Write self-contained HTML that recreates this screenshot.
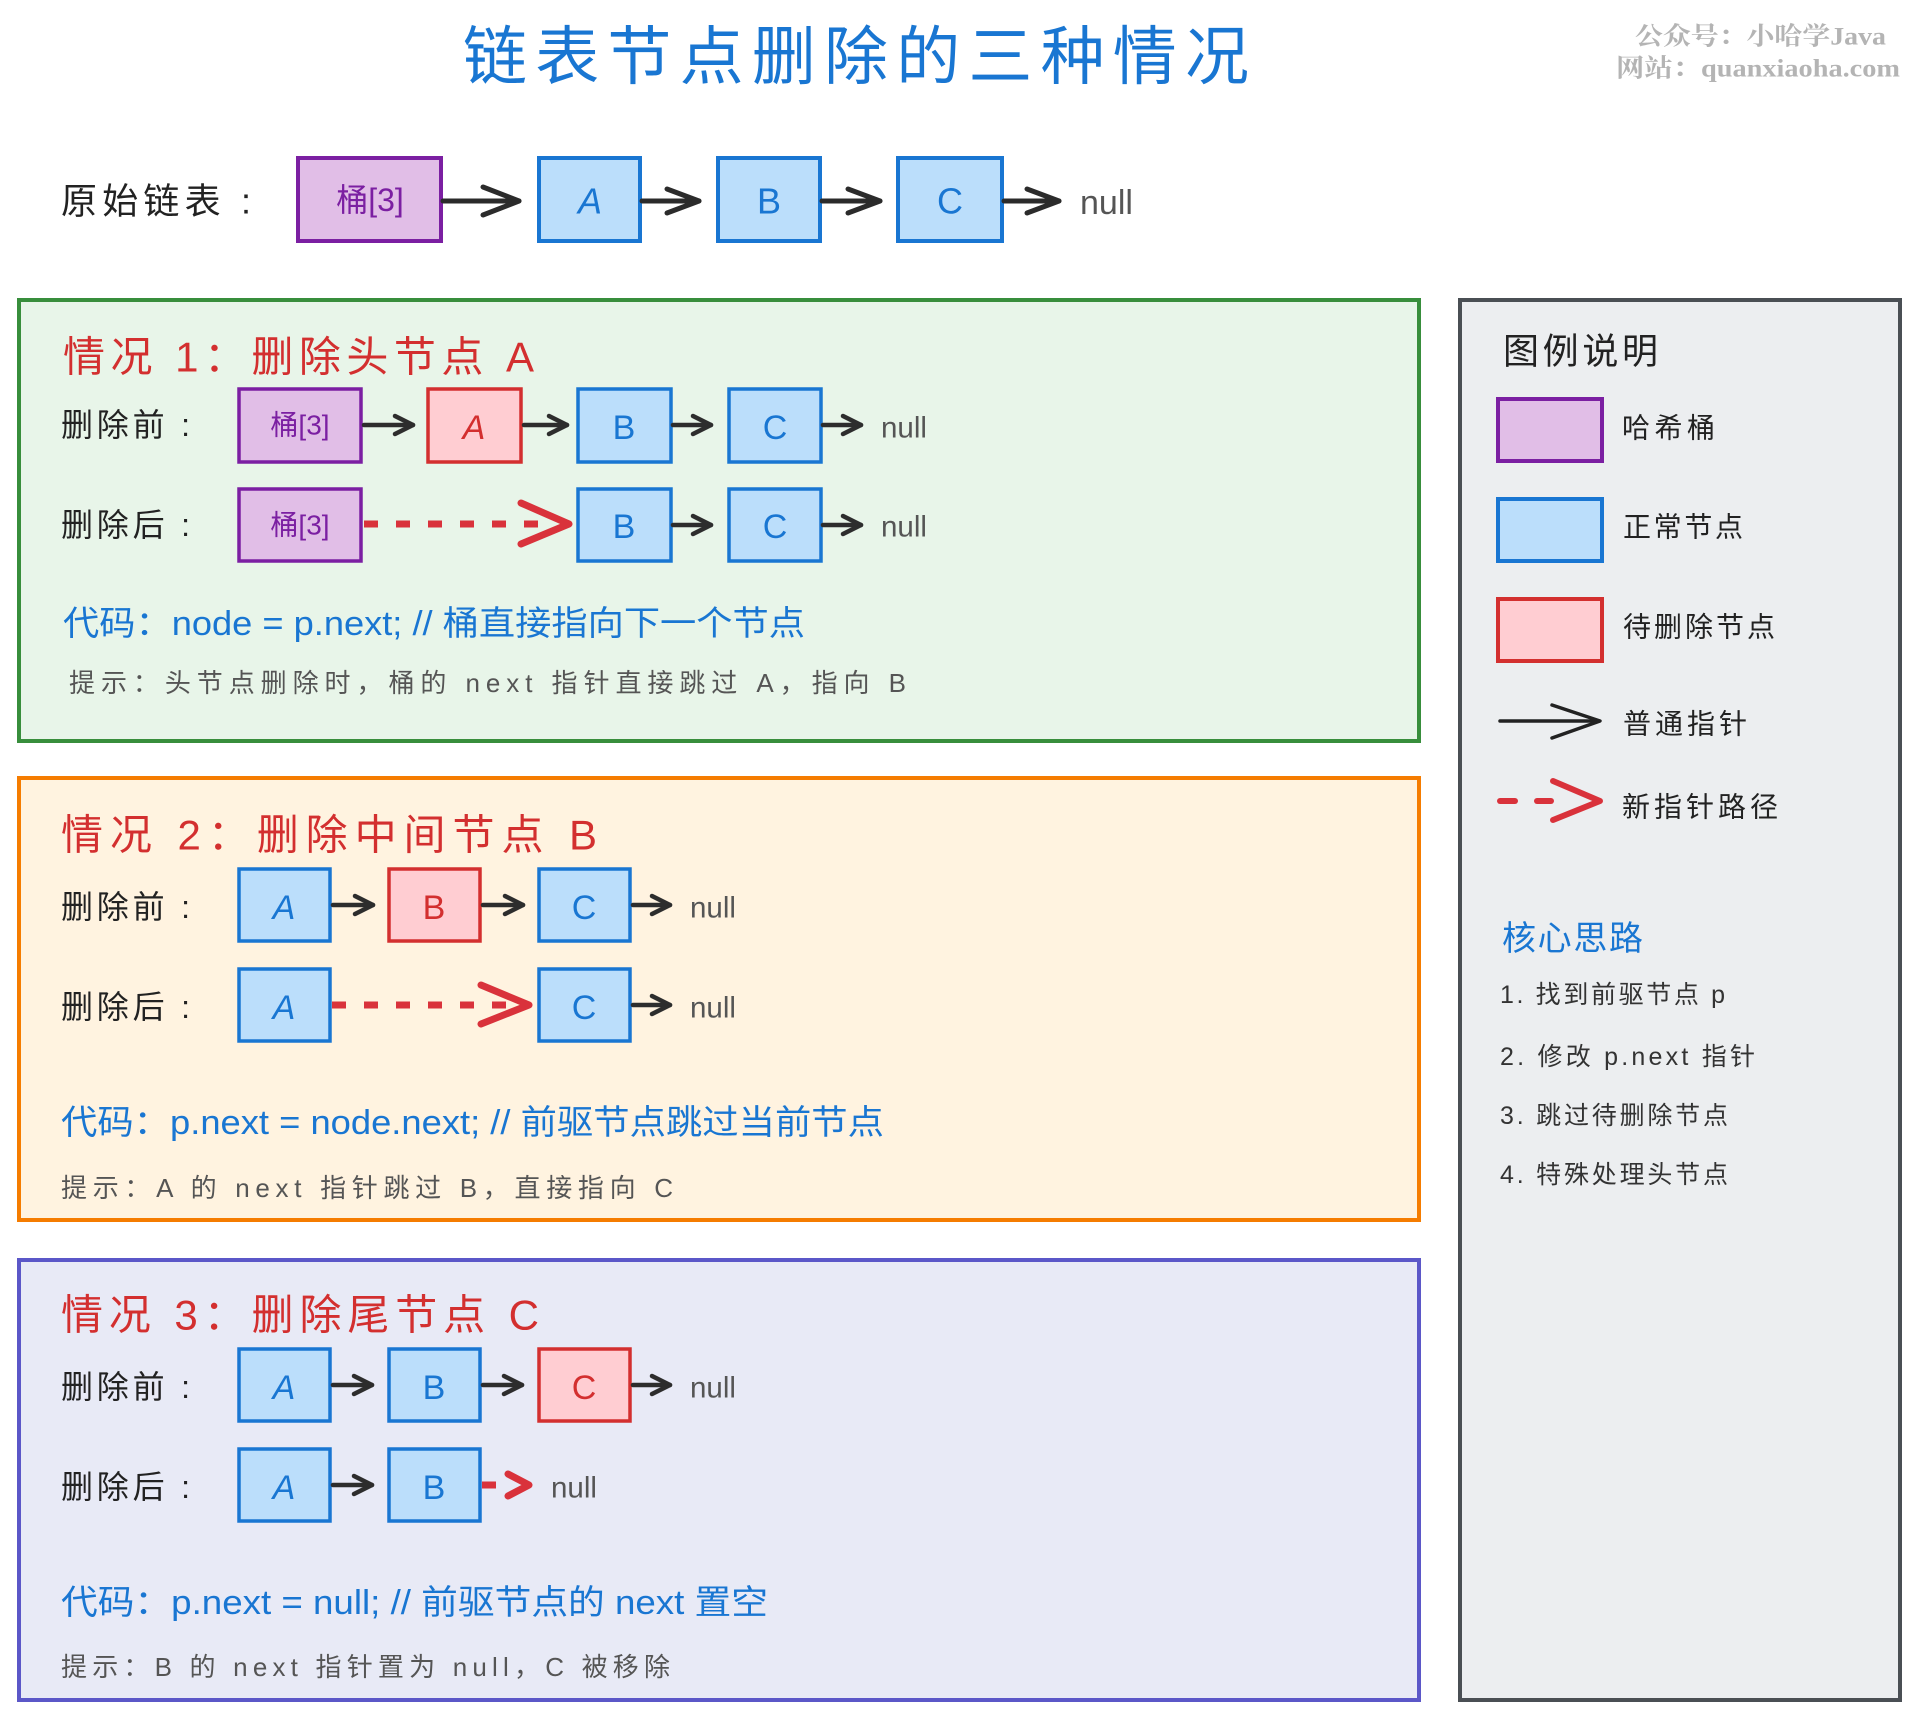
<!DOCTYPE html>
<html>
<head>
<meta charset="utf-8">
<style>
  html,body{margin:0;padding:0;background:#ffffff;}
  svg{display:block;}
  text{font-family:"Liberation Sans","Noto Sans CJK SC",sans-serif;}
</style>
</head>
<body>
<svg width="1920" height="1720" viewBox="0 0 1920 1720" xmlns="http://www.w3.org/2000/svg">
  <rect x="0" y="0" width="1920" height="1720" fill="#ffffff"/>

  <!-- Title -->
  <text x="463" y="57" dominant-baseline="central" font-size="64" fill="#1976d2" textLength="786" lengthAdjust="spacing">链表节点删除的三种情况</text>

  <!-- Watermark -->
  <text x="1635" y="37" dominant-baseline="central" font-size="25" fill="#b4b4b4" font-weight="bold" textLength="251" lengthAdjust="spacingAndGlyphs" style="font-family:'Liberation Serif','Noto Serif CJK SC',serif">公众号：小哈学Java</text>
  <text x="1616" y="69" dominant-baseline="central" font-size="25" fill="#b4b4b4" font-weight="bold" textLength="284" lengthAdjust="spacingAndGlyphs" style="font-family:'Liberation Serif','Noto Serif CJK SC',serif">网站：quanxiaoha.com</text>

  <!-- Original list -->
  <text x="61" y="201" dominant-baseline="central" font-size="36" fill="#222" textLength="190" lengthAdjust="spacing">原始链表 :</text>
  <g stroke-width="4">
    <rect x="298" y="158" width="143" height="83" fill="#e1bee7" stroke="#7b1fa2"/>
    <rect x="539" y="158" width="101" height="83" fill="#bbdefb" stroke="#1976d2"/>
    <rect x="718" y="158" width="102" height="83" fill="#bbdefb" stroke="#1976d2"/>
    <rect x="898" y="158" width="104" height="83" fill="#bbdefb" stroke="#1976d2"/>
  </g>
  <text x="370" y="200" text-anchor="middle" dominant-baseline="central" font-size="32" fill="#7b1fa2">桶[3]</text>
  <text x="590" y="201" text-anchor="middle" dominant-baseline="central" font-size="36" fill="#1976d2" font-style="italic">A</text>
  <text x="769" y="201" text-anchor="middle" dominant-baseline="central" font-size="36" fill="#1976d2">B</text>
  <text x="950" y="201" text-anchor="middle" dominant-baseline="central" font-size="36" fill="#1976d2">C</text>
  <text x="1080" y="203" dominant-baseline="central" font-size="34" fill="#555" textLength="53" lengthAdjust="spacingAndGlyphs">null</text>
  <g stroke="#2b2b2b" stroke-width="5" fill="none" stroke-linecap="round" stroke-linejoin="round">
    <line x1="443" y1="201" x2="519" y2="201"/><polyline points="483,187 519,201 483,215"/>
    <line x1="642" y1="201" x2="699" y2="201"/><polyline points="667,189 699,201 667,213"/>
    <line x1="822" y1="201" x2="880" y2="201"/><polyline points="848,189 880,201 848,213"/>
    <line x1="1004" y1="201" x2="1059" y2="201"/><polyline points="1027,189 1059,201 1027,213"/>
  </g>

  <!-- Section 1 -->
  <rect x="19" y="300" width="1400" height="441" fill="#e8f5e9" stroke="#388e3c" stroke-width="4"/>
  <text x="63" y="357" dominant-baseline="central" font-size="42" fill="#d32f2f" textLength="471" lengthAdjust="spacing">情况 1：删除头节点 A</text>
  <text x="61" y="425" dominant-baseline="central" font-size="32" fill="#222" textLength="129" lengthAdjust="spacing">删除前 :</text>
  <text x="61" y="525" dominant-baseline="central" font-size="32" fill="#222" textLength="129" lengthAdjust="spacing">删除后 :</text>
  <g stroke-width="3.5">
    <rect x="239" y="389" width="122" height="73" fill="#e1bee7" stroke="#7b1fa2"/>
    <rect x="428" y="389" width="93" height="73" fill="#ffcdd2" stroke="#d32f2f"/>
    <rect x="578" y="389" width="93" height="73" fill="#bbdefb" stroke="#1976d2"/>
    <rect x="729" y="389" width="92" height="73" fill="#bbdefb" stroke="#1976d2"/>
    <rect x="239" y="489" width="122" height="72" fill="#e1bee7" stroke="#7b1fa2"/>
    <rect x="578" y="489" width="93" height="72" fill="#bbdefb" stroke="#1976d2"/>
    <rect x="729" y="489" width="92" height="72" fill="#bbdefb" stroke="#1976d2"/>
  </g>
  <text x="300" y="425" text-anchor="middle" dominant-baseline="central" font-size="28" fill="#7b1fa2">桶[3]</text>
  <text x="474" y="428" text-anchor="middle" dominant-baseline="central" font-size="34" fill="#d32f2f" font-style="italic">A</text>
  <text x="624" y="428" text-anchor="middle" dominant-baseline="central" font-size="34" fill="#1976d2">B</text>
  <text x="775" y="428" text-anchor="middle" dominant-baseline="central" font-size="34" fill="#1976d2">C</text>
  <text x="881" y="428" dominant-baseline="central" font-size="30" fill="#555" textLength="46" lengthAdjust="spacingAndGlyphs">null</text>
  <text x="300" y="525" text-anchor="middle" dominant-baseline="central" font-size="28" fill="#7b1fa2">桶[3]</text>
  <text x="624" y="527" text-anchor="middle" dominant-baseline="central" font-size="34" fill="#1976d2">B</text>
  <text x="775" y="527" text-anchor="middle" dominant-baseline="central" font-size="34" fill="#1976d2">C</text>
  <text x="881" y="527" dominant-baseline="central" font-size="30" fill="#555" textLength="46" lengthAdjust="spacingAndGlyphs">null</text>
  <g stroke="#2d2d2d" stroke-width="4.5" fill="none" stroke-linecap="round" stroke-linejoin="round">
    <line x1="364" y1="425" x2="413" y2="425"/><polyline points="395,416 413,425 395,434"/>
    <line x1="524" y1="425" x2="567" y2="425"/><polyline points="549,416 567,425 549,434"/>
    <line x1="673" y1="425" x2="711" y2="425"/><polyline points="693,416 711,425 693,434"/>
    <line x1="823" y1="425" x2="861" y2="425"/><polyline points="843,416 861,425 843,434"/>
    <line x1="673" y1="525" x2="711" y2="525"/><polyline points="693,516 711,525 693,534"/>
    <line x1="823" y1="525" x2="861" y2="525"/><polyline points="843,516 861,525 843,534"/>
  </g>
  <g stroke="#d9323b" fill="none" stroke-linecap="round" stroke-linejoin="round">
    <line x1="364" y1="524" x2="556" y2="524" stroke-width="7" stroke-dasharray="14 18" stroke-linecap="butt"/>
    <polyline points="521,503 569,524 521,544" stroke-width="7"/>
  </g>
  <text x="63" y="624" dominant-baseline="central" font-size="34" fill="#1976d2" textLength="742" lengthAdjust="spacingAndGlyphs">代码：node = p.next; // 桶直接指向下一个节点</text>
  <text x="69" y="683" dominant-baseline="central" font-size="26" fill="#555" textLength="837" lengthAdjust="spacing">提示：头节点删除时，桶的 next 指针直接跳过 A，指向 B</text>

  <!-- Section 2 -->
  <rect x="19" y="778" width="1400" height="442" fill="#fff3e0" stroke="#f57c00" stroke-width="4"/>
  <text x="61" y="835" dominant-baseline="central" font-size="42" fill="#d32f2f" textLength="536" lengthAdjust="spacing">情况 2：删除中间节点 B</text>
  <text x="61" y="907" dominant-baseline="central" font-size="32" fill="#222" textLength="129" lengthAdjust="spacing">删除前 :</text>
  <text x="61" y="1007" dominant-baseline="central" font-size="32" fill="#222" textLength="129" lengthAdjust="spacing">删除后 :</text>
  <g stroke-width="3.5">
    <rect x="239" y="869" width="91" height="72" fill="#bbdefb" stroke="#1976d2"/>
    <rect x="389" y="869" width="91" height="72" fill="#ffcdd2" stroke="#d32f2f"/>
    <rect x="539" y="869" width="91" height="72" fill="#bbdefb" stroke="#1976d2"/>
    <rect x="239" y="969" width="91" height="72" fill="#bbdefb" stroke="#1976d2"/>
    <rect x="539" y="969" width="91" height="72" fill="#bbdefb" stroke="#1976d2"/>
  </g>
  <text x="284" y="908" text-anchor="middle" dominant-baseline="central" font-size="34" fill="#1976d2" font-style="italic">A</text>
  <text x="434" y="908" text-anchor="middle" dominant-baseline="central" font-size="34" fill="#d32f2f">B</text>
  <text x="584" y="908" text-anchor="middle" dominant-baseline="central" font-size="34" fill="#1976d2">C</text>
  <text x="690" y="908" dominant-baseline="central" font-size="30" fill="#555" textLength="46" lengthAdjust="spacingAndGlyphs">null</text>
  <text x="284" y="1008" text-anchor="middle" dominant-baseline="central" font-size="34" fill="#1976d2" font-style="italic">A</text>
  <text x="584" y="1008" text-anchor="middle" dominant-baseline="central" font-size="34" fill="#1976d2">C</text>
  <text x="690" y="1008" dominant-baseline="central" font-size="30" fill="#555" textLength="46" lengthAdjust="spacingAndGlyphs">null</text>
  <g stroke="#2d2d2d" stroke-width="4.5" fill="none" stroke-linecap="round" stroke-linejoin="round">
    <line x1="333" y1="905" x2="373" y2="905"/><polyline points="355,896 373,905 355,914"/>
    <line x1="483" y1="905" x2="523" y2="905"/><polyline points="505,896 523,905 505,914"/>
    <line x1="633" y1="905" x2="670" y2="905"/><polyline points="652,896 670,905 652,914"/>
    <line x1="633" y1="1005" x2="670" y2="1005"/><polyline points="652,996 670,1005 652,1014"/>
  </g>
  <g stroke="#d9323b" fill="none" stroke-linecap="round" stroke-linejoin="round">
    <line x1="332" y1="1005" x2="518" y2="1005" stroke-width="7" stroke-dasharray="14 18" stroke-linecap="butt"/>
    <polyline points="481,985 529,1005 481,1024" stroke-width="7"/>
  </g>
  <text x="61" y="1123" dominant-baseline="central" font-size="34" fill="#1976d2" textLength="823" lengthAdjust="spacingAndGlyphs">代码：p.next = node.next; // 前驱节点跳过当前节点</text>
  <text x="61" y="1188" dominant-baseline="central" font-size="26" fill="#555" textLength="612" lengthAdjust="spacing">提示：A 的 next 指针跳过 B，直接指向 C</text>

  <!-- Section 3 -->
  <rect x="19" y="1260" width="1400" height="440" fill="#e8eaf6" stroke="#5b57c8" stroke-width="4"/>
  <text x="61" y="1315" dominant-baseline="central" font-size="42" fill="#d32f2f" textLength="478" lengthAdjust="spacing">情况 3：删除尾节点 C</text>
  <text x="61" y="1387" dominant-baseline="central" font-size="32" fill="#222" textLength="129" lengthAdjust="spacing">删除前 :</text>
  <text x="61" y="1487" dominant-baseline="central" font-size="32" fill="#222" textLength="129" lengthAdjust="spacing">删除后 :</text>
  <g stroke-width="3.5">
    <rect x="239" y="1349" width="91" height="72" fill="#bbdefb" stroke="#1976d2"/>
    <rect x="389" y="1349" width="91" height="72" fill="#bbdefb" stroke="#1976d2"/>
    <rect x="539" y="1349" width="91" height="72" fill="#ffcdd2" stroke="#d32f2f"/>
    <rect x="239" y="1449" width="91" height="72" fill="#bbdefb" stroke="#1976d2"/>
    <rect x="389" y="1449" width="91" height="72" fill="#bbdefb" stroke="#1976d2"/>
  </g>
  <text x="284" y="1388" text-anchor="middle" dominant-baseline="central" font-size="34" fill="#1976d2" font-style="italic">A</text>
  <text x="434" y="1388" text-anchor="middle" dominant-baseline="central" font-size="34" fill="#1976d2">B</text>
  <text x="584" y="1388" text-anchor="middle" dominant-baseline="central" font-size="34" fill="#d32f2f">C</text>
  <text x="690" y="1388" dominant-baseline="central" font-size="30" fill="#555" textLength="46" lengthAdjust="spacingAndGlyphs">null</text>
  <text x="284" y="1488" text-anchor="middle" dominant-baseline="central" font-size="34" fill="#1976d2" font-style="italic">A</text>
  <text x="434" y="1488" text-anchor="middle" dominant-baseline="central" font-size="34" fill="#1976d2">B</text>
  <text x="551" y="1488" dominant-baseline="central" font-size="30" fill="#555" textLength="46" lengthAdjust="spacingAndGlyphs">null</text>
  <g stroke="#2d2d2d" stroke-width="4.5" fill="none" stroke-linecap="round" stroke-linejoin="round">
    <line x1="333" y1="1385" x2="372" y2="1385"/><polyline points="354,1376 372,1385 354,1394"/>
    <line x1="483" y1="1385" x2="522" y2="1385"/><polyline points="504,1376 522,1385 504,1394"/>
    <line x1="633" y1="1385" x2="670" y2="1385"/><polyline points="652,1376 670,1385 652,1394"/>
    <line x1="333" y1="1485" x2="372" y2="1485"/><polyline points="354,1476 372,1485 354,1494"/>
  </g>
  <g stroke="#d9323b" fill="none" stroke-linecap="round" stroke-linejoin="round">
    <line x1="482" y1="1485" x2="496" y2="1485" stroke-width="7" stroke-linecap="butt"/>
    <polyline points="508,1474 529,1485 508,1496" stroke-width="7"/>
  </g>
  <text x="61" y="1603" dominant-baseline="central" font-size="34" fill="#1976d2" textLength="707" lengthAdjust="spacingAndGlyphs">代码：p.next = null; // 前驱节点的 next 置空</text>
  <text x="61" y="1667" dominant-baseline="central" font-size="26" fill="#555" textLength="609" lengthAdjust="spacing">提示：B 的 next 指针置为 null，C 被移除</text>

  <!-- Legend -->
  <rect x="1460" y="300" width="440" height="1400" fill="#eceef0" stroke="#4a4f54" stroke-width="4"/>
  <text x="1503" y="351" dominant-baseline="central" font-size="36" fill="#222" textLength="155" lengthAdjust="spacing">图例说明</text>
  <rect x="1498" y="399" width="104" height="62" fill="#e1bee7" stroke="#7b1fa2" stroke-width="4"/>
  <text x="1622" y="428" dominant-baseline="central" font-size="28" fill="#222" textLength="93" lengthAdjust="spacing">哈希桶</text>
  <rect x="1498" y="499" width="104" height="62" fill="#bbdefb" stroke="#1976d2" stroke-width="4"/>
  <text x="1623" y="527" dominant-baseline="central" font-size="28" fill="#222" textLength="120" lengthAdjust="spacing">正常节点</text>
  <rect x="1498" y="599" width="104" height="62" fill="#ffcdd2" stroke="#d32f2f" stroke-width="4"/>
  <text x="1623" y="627" dominant-baseline="central" font-size="28" fill="#222" textLength="152" lengthAdjust="spacing">待删除节点</text>
  <g stroke="#222" stroke-width="3.5" fill="none" stroke-linecap="round" stroke-linejoin="round">
    <line x1="1500" y1="721" x2="1599" y2="721"/>
    <polyline points="1552,705 1600,721 1552,738"/>
  </g>
  <text x="1623" y="724" dominant-baseline="central" font-size="28" fill="#222" textLength="124" lengthAdjust="spacing">普通指针</text>
  <g stroke="#d9323b" fill="none" stroke-linecap="round" stroke-linejoin="round">
    <line x1="1500" y1="801" x2="1515" y2="801" stroke-width="6"/>
    <line x1="1537" y1="801" x2="1551" y2="801" stroke-width="6"/>
    <polyline points="1553,781 1600,801 1553,820" stroke-width="6"/>
  </g>
  <text x="1622" y="807" dominant-baseline="central" font-size="28" fill="#222" textLength="156" lengthAdjust="spacing">新指针路径</text>

  <text x="1502" y="939" dominant-baseline="central" font-size="34" fill="#1976d2" textLength="141" lengthAdjust="spacing">核心思路</text>
  <text x="1500" y="995" dominant-baseline="central" font-size="25" fill="#333" textLength="225" lengthAdjust="spacing">1. 找到前驱节点 p</text>
  <text x="1500" y="1057" dominant-baseline="central" font-size="25" fill="#333" textLength="255" lengthAdjust="spacing">2. 修改 p.next 指针</text>
  <text x="1500" y="1116" dominant-baseline="central" font-size="25" fill="#333" textLength="228" lengthAdjust="spacing">3. 跳过待删除节点</text>
  <text x="1500" y="1175" dominant-baseline="central" font-size="25" fill="#333" textLength="228" lengthAdjust="spacing">4. 特殊处理头节点</text>
</svg>
</body>
</html>
